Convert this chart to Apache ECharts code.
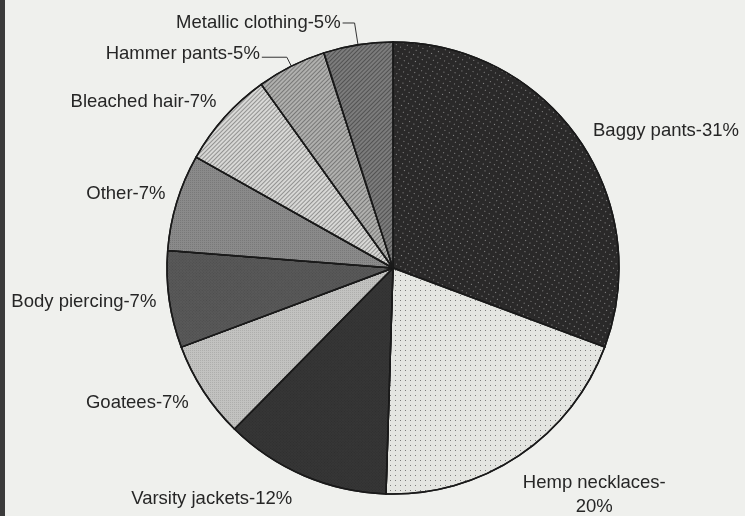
<!DOCTYPE html>
<html>
<head>
<meta charset="utf-8">
<script src="https://cdn.jsdelivr.net/npm/echarts@6/dist/echarts.min.js"></script>
<style>
  html, body { margin: 0; padding: 0; background: #eff0ed; }
  #main { width: 745px; height: 516px; }
</style>
</head>
<body>
<div id="main"></div>
<script>
// slices, clockwise from 12 o'clock
const names = ['Baggy pants', 'Hemp necklaces', 'Varsity jackets', 'Goatees',
  'Body piercing', 'Other', 'Bleached hair', 'Hammer pants', 'Metallic clothing'];
const percents = [31, 20, 12, 7, 7, 7, 7, 5, 5];

// fill tone + texture of each slice
const fills = ['#2a2929', '#e4e5e1', '#363636', '#c2c2c0', '#595959', '#8a8a8a', '#d8d8d6', '#b0b0ae', '#7c7c7c'];
const dots = { symbol: 'rect', symbolSize: 1, dashArrayX: [1, 4], dashArrayY: [1, 4] };
const fine = { symbol: 'rect', symbolSize: 1, dashArrayX: [1, 1], dashArrayY: [1, 1] };
const hatch = { symbol: 'rect', symbolSize: 1, dashArrayX: [1, 0], dashArrayY: [1, 2], rotation: -Math.PI / 4 };
const decals = [
  Object.assign({ color: 'rgba(255,255,255,0.45)' }, dots),
  Object.assign({ color: 'rgba(40,40,40,0.55)' }, dots),
  Object.assign({ color: 'rgba(0,0,0,0.15)' }, fine),
  Object.assign({ color: 'rgba(0,0,0,0.1)' }, fine),
  Object.assign({ color: 'rgba(0,0,0,0.15)' }, fine),
  Object.assign({ color: 'rgba(0,0,0,0.12)' }, fine),
  Object.assign({ color: 'rgba(60,60,60,0.45)' }, hatch),
  Object.assign({ color: 'rgba(50,50,50,0.45)' }, hatch),
  Object.assign({ color: 'rgba(30,30,30,0.45)' }, hatch)
];

let chartDom = document.getElementById('main');
let myChart = echarts.init(chartDom);

let data = names.map((n, i) => ({
  name: n,
  value: percents[i],
  itemStyle: { color: fills[i], decal: decals[i] },
  labelLine: { show: false }
}));
// the two thin slices at the top get leader lines
data[7].labelLine = { show: true, length: 10, length2: 25 };
data[8].labelLine = { show: true, length: 22, length2: 12 };
data[2].labelLine = { show: false, length: 25, length2: 0 };

let option = {
  backgroundColor: '#eff0ed',
  aria: { enabled: true, decal: { show: true } },
  animation: false,
  graphic: [
    { type: 'rect', left: 0, top: 0, shape: { width: 5, height: 516 }, style: { fill: '#3b3b3b' } }
  ],
  series: [
    {
      type: 'pie',
      center: [393, 268],
      radius: 226,
      startAngle: 90,
      clockwise: true,
      avoidLabelOverlap: false,
      itemStyle: { borderColor: '#1a1a1a', borderWidth: 1.5 },
      label: {
        show: true,
        position: 'outside',
        fontFamily: 'Liberation Sans, Arial, sans-serif',
        fontSize: 18.5,
        color: '#262626',
        lineHeight: 24,
        distanceToLabelLine: 2,
        formatter: p => p.name === 'Hemp necklaces'
          ? p.name + '-\n' + p.value + '%'
          : p.name + '-' + p.value + '%'
      },
      labelLine: {
        length: 15,
        length2: 0,
        lineStyle: { color: '#333', width: 1 }
      },
      labelLayout: p => {
        if (p.dataIndex === 1) return { align: 'center', dx: 65, dy: 27 };
        if (p.dataIndex === 6) return { dx: 5, dy: -5 };
        if (p.dataIndex === 5) return { dx: 5, dy: -4 };
        if (p.dataIndex === 4) return { dx: 4 };
        if (p.dataIndex === 3) return { dy: 4 };
        if (p.dataIndex === 7) return { dy: -3 };
        return {};
      },
      data: data
    }
  ]
};

myChart.setOption(option);
</script>
</body>
</html>
